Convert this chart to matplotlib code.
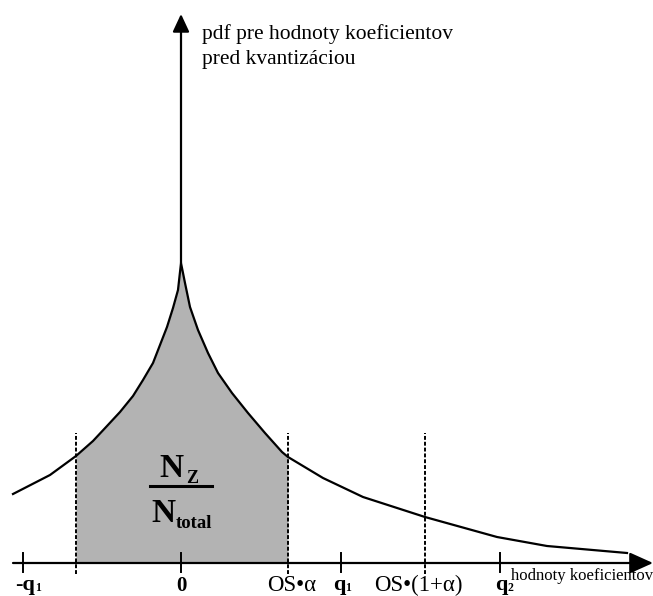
import matplotlib
matplotlib.use("Agg")
import matplotlib.pyplot as plt
import numpy as np

plt.rcParams['font.family'] = ['Liberation Serif', 'DejaVu Serif']

# pdf curve (x offset from 0, height above the axis)
curve_x = [-168, -131, -105, -88, -74, -61, -48, -38, -28, -21, -14, -8, -3, 0,
           4, 9, 17, 27, 37, 51, 67, 84, 101, 107, 142, 182, 244, 316, 366, 446]
curve_y = [69, 88, 107, 122, 137, 151, 167, 183, 200, 218, 236, 255, 273, 300,
           280, 256, 233, 210, 190, 170, 150, 130, 111, 106, 85, 66, 46, 26, 17, 10]

# shaded region limits and dashed markers
shade_lo, shade_hi = -105, 107
dashed_x = [-105, 107, 244]

# ticks on the horizontal axis: bold q labels with small index
tick_x = [-158, 0, 160, 319]
tick_split = [-146, None, 164, 327]
tick_main = ['-q', '0', 'q', 'q']
tick_sub = ['1', '', '1', '2']
os_x = [111, 237]
os_labels = ['OS•α', 'OS•(1+α)']

fig = plt.figure(figsize=(6.53, 5.96), dpi=100)
ax = fig.add_axes([0, 0, 1, 1])
ax.set_xlim(-181, 472)
ax.set_ylim(-33, 563)
ax.axis('off')

cx = np.array(curve_x)
cy = np.array(curve_y)
m = (cx >= shade_lo) & (cx <= shade_hi)
ax.fill_between(cx[m], 0, cy[m], color='#b3b3b3', lw=0, zorder=1)
ax.plot(cx, cy, color='black', lw=1.6, zorder=3, solid_joinstyle='round')

for d in dashed_x:
    ax.plot([d, d], [-11, 130], color='black', lw=1.4, ls=(0, (2, 1)), zorder=2)

for t in tick_x:
    ax.plot([t, t], [-9, 10], color='black', lw=1.4, zorder=3)

# axes with arrow heads
ax.annotate('', xy=(472, 0), xytext=(-168, 0),
            arrowprops=dict(arrowstyle='-|>,head_length=0.8,head_width=0.36',
                            lw=1.6, color='black', shrinkA=0, shrinkB=0, mutation_scale=18))
ax.annotate('', xy=(0, 549), xytext=(0, 300),
            arrowprops=dict(arrowstyle='-|>,head_length=0.6,head_width=0.28',
                            lw=1.6, color='black', shrinkA=0, shrinkB=0, mutation_scale=18))

for t, sp, mn, sb in zip(tick_x, tick_split, tick_main, tick_sub):
    if sp is None:
        ax.text(t, -28, mn, ha='center', va='baseline', fontsize=15, fontweight='bold')
    else:
        ax.text(sp, -27, mn, ha='right', va='baseline', fontsize=16, fontweight='bold')
        ax.text(sp, -28, sb, ha='left', va='baseline', fontsize=8.5, fontweight='bold')
for t, lab in zip(os_x, os_labels):
    ax.text(t, -28, lab, ha='center', va='baseline', fontsize=16.5)

ax.text(330, -17, 'hodnoty koeficientov', ha='left', va='baseline', fontsize=12)
ax.text(21, 524, 'pdf pre hodnoty koeficientov', ha='left', va='baseline', fontsize=15.5)
ax.text(21, 499, 'pred kvantizáciou', ha='left', va='baseline', fontsize=15.5)

# fraction N_Z / N_total
ax.text(2, 86, 'N', ha='right', va='baseline', fontsize=24, fontweight='bold')
ax.text(5, 80, 'Z', ha='left', va='baseline', fontsize=13, fontweight='bold')
ax.plot([-31, 31], [77, 77], color='black', lw=2.2, zorder=3)
ax.text(-6, 41, 'N', ha='right', va='baseline', fontsize=24, fontweight='bold')
ax.text(-5, 35, 'total', ha='left', va='baseline', fontsize=13.5, fontweight='bold')

fig.savefig('out.png', dpi=100)
